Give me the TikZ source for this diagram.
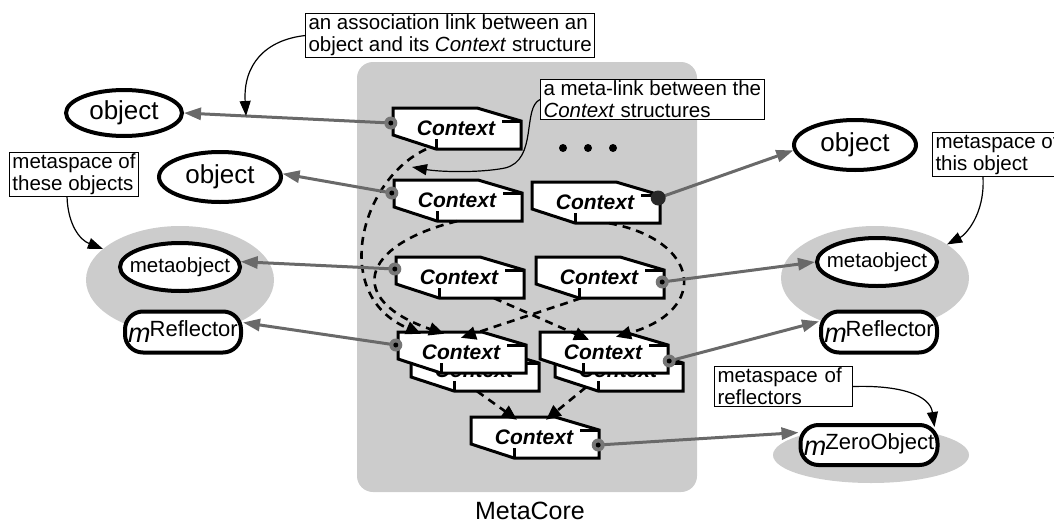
\documentclass[tikz,border=0pt]{standalone}
\usepackage{fontspec}
\setmainfont{Liberation Sans}
\usetikzlibrary{shapes.geometric,arrows.meta,calc}
\definecolor{bggray}{RGB}{204,204,204}
\definecolor{linkgray}{RGB}{105,105,105}
\definecolor{dotgray}{RGB}{118,118,118}
\definecolor{dotdark}{RGB}{40,40,40}
\tikzset{
  ctxedge/.style={draw=black, fill=white, line width=3pt, line join=miter},
  ctxtext/.style={rectangle, inner sep=0pt, minimum width=128pt, minimum height=41pt,
    font=\fontsize{21}{22}\selectfont\bfseries\itshape},
  obj/.style={ellipse, draw, line width=4pt, fill=white, inner sep=0pt,
    font=\fontsize{26}{28}\selectfont},
  mobj/.style={ellipse, draw, line width=4pt, fill=white, inner sep=0pt,
    font=\fontsize{20.5}{22}\selectfont},
  refl/.style={rectangle, rounded corners=18pt, draw, line width=4pt, fill=white, inner sep=0pt},
  space/.style={ellipse, fill=bggray, inner sep=0pt},
  note/.style={draw, line width=1pt, fill=white, align=left, inner xsep=3pt, inner ysep=1.5pt,
    font=\fontsize{20.5}{22}\selectfont},
  link/.style={draw=linkgray, line width=3pt, -{Triangle[length=17pt,width=12pt]}},
  metalink/.style={draw=black, line width=2.6pt, dash pattern=on 8pt off 6pt,
    -{Triangle[length=15pt,width=13pt]}},
  callout/.style={draw=black, line width=1.2pt, -{Triangle[length=15pt,width=11pt]}},
}
\newcommand\ctxbox[3]{%
  \filldraw[ctxedge] (#2,#3) -- (#2+84,#3) -- (#2+128,#3+13) -- (#2+128,#3+41)
     -- (#2+43,#3+41) -- (#2,#3+27) -- cycle;
  \draw[ctxedge] (#2+43,#3+31) -- (#2+43,#3+41) (#2+109,#3+13) -- (#2+128,#3+13);
  \node[ctxtext] (#1) at (#2+63,#3+20.5) {Context};
}
\newcommand\mtext[1]{\makebox[0pt]{{\fontsize{27}{27}\selectfont\itshape m}\kern-1pt\raisebox{6pt}{\fontsize{22}{22}\selectfont #1}}}
\begin{document}
\begin{tikzpicture}[x=1pt,y=-1pt]
\useasboundingbox (0,0) rectangle (1054,522);
\clip (0,0) rectangle (1054,522);
% MetaCore region
\node[rectangle, rounded corners=16pt, fill=bggray, minimum width=340pt, minimum height=430pt, inner sep=0pt] (core) at (527,277) {};
\node[font=\fontsize{25}{25}\selectfont, anchor=base, inner sep=0pt] (mclabel) at (530,519) {MetaCore};
% metaspaces
\node[space, minimum width=188pt, minimum height=108pt] (gs1) at (180,280) {};
\node[space, minimum width=188pt, minimum height=104pt] (gs2) at (875,278) {};
\node[space, minimum width=196pt, minimum height=56pt] (gz) at (871,455) {};
% objects
\node[obj, minimum width=116pt, minimum height=46pt] (o1) at (124,113) {\makebox[0pt]{object}};
\node[obj, minimum width=122pt, minimum height=50pt] (o2) at (220,177) {\makebox[0pt]{object}};
\node[obj, minimum width=122pt, minimum height=50pt] (o3) at (855,145) {\makebox[0pt]{object}};
\node[mobj, minimum width=120pt, minimum height=48pt] (mo1) at (180,267) {\makebox[0pt]{metaobject}};
\node[mobj, minimum width=120pt, minimum height=48pt] (mo2) at (877,262) {\makebox[0pt]{metaobject}};
\node[refl, minimum width=116pt, minimum height=41pt] (r1) at (183,332) {\mtext{Reflector}};
\node[refl, minimum width=116pt, minimum height=41pt] (r2) at (879,332) {\mtext{Reflector}};
\node[refl, minimum width=137pt, minimum height=40pt] (z) at (869,445) {\mtext{ZeroObject}};
% Context structures
\ctxbox{c1}{393}{108}
\ctxbox{c2}{394}{180}
\ctxbox{c3}{532}{182}
\ctxbox{c4}{396}{257}
\ctxbox{c5}{536}{257}
\ctxbox{c6b}{411}{350}
\ctxbox{c6}{398}{332}
\ctxbox{c7b}{555}{350}
\ctxbox{c7}{540}{332}
\ctxbox{c8}{471}{417}
% dots
\fill (563,148) circle[radius=4pt] (588,148) circle[radius=4pt] (613,148) circle[radius=4pt];
% meta-links
\draw[metalink] ([xshift=-30pt]c1.south) .. controls (360,180) and (330,295) .. ([xshift=-40pt,yshift=-2pt]c6.north);
\draw[metalink] (c2.south) .. controls (360,245) and (345,300) .. ([xshift=-17pt,yshift=-2pt]c6.north);
\draw[metalink] ([xshift=-18pt]c5.south) -- ([yshift=-6pt]c6.north);
\draw[metalink] ([xshift=35pt]c4.south) -- ([xshift=-14pt,yshift=-8pt]c7.north);
\draw[metalink] ([xshift=14pt]c3.south) .. controls (700,240) and (710,310) .. ([xshift=13pt,yshift=-5pt]c7.north);
\draw[metalink] ([xshift=3pt]c6b.south) -- ([xshift=-17pt,yshift=-3pt]c8.north);
\draw[metalink] ([xshift=-32pt,yshift=4pt]c7b.south) -- ([xshift=12pt,yshift=-3pt]c8.north);
% association links
\coordinate (p1) at ([xshift=-1pt,yshift=5.5pt]c1.west);
\coordinate (p2) at ([xshift=-1pt,yshift=7.5pt]c2.west);
\coordinate (p3) at ([xshift=-1pt,yshift=4.5pt]c3.east);
\coordinate (p4) at ([yshift=8.5pt]c4.west);
\coordinate (p5) at ([xshift=-1pt,yshift=-4.5pt]c5.east);
\coordinate (p6) at ([xshift=-1pt,yshift=7.5pt]c6.west);
\coordinate (p7) at ([xshift=2pt,yshift=-8.5pt]c7.east);
\coordinate (p8) at ([yshift=-7.5pt]c8.east);
\draw[link] (p1) -- coordinate[pos=0.7] (l1m) (o1.east);
\draw[link] (p2) -- (o2.3);
\draw[link] (p3) -- (o3.185);
\draw[link] (p4) -- (mo1.5);
\draw[link] (p5) -- (mo2.west);
\draw[link] (p6) -- (r1.9);
\draw[link] (p7) -- (r2.170);
\draw[link] (p8) -- (z.170);
\foreach \p in {p1,p2,p4,p5,p6,p7,p8}{
  \fill[dotgray] (\p) circle[radius=6.5pt];
  \fill[black] (\p) circle[radius=2.5pt];
}
\fill[dotdark] (p3) circle[radius=7.5pt];
% notes
\node[note, anchor=north west] (n1) at (305,13) {an association link between an\\object and its \textit{Context} structure};
\node[note, anchor=north west] (n2) at (9,152) {metaspace of\\these objects};
\node[note, anchor=north west] (n3) at (540,79) {a meta-link between the\\\textit{Context} structures};
\node[note, anchor=north west] (n4) at (932,132) {metaspace of\\this object};
\node[note, anchor=north west, text width=132pt] (n5) at (714,366) {metaspace of\\reflectors};
\coordinate (mlend) at (412,167);
\draw[callout] (n1.west) .. controls (265,40) and (243,65) .. (l1m);
\draw[callout] ([xshift=-7pt]n2.south) .. controls (68,225) and (80,240) .. (gs1.158);
\draw[callout] (n3.west) .. controls (522,108) and (538,160) .. (505,168) .. controls (480,173) and (440,172) .. (mlend);
\draw[callout] ([xshift=51pt]n4.south west) .. controls (985,215) and (965,235) .. (gs2.25);
\draw[callout] (n5.east) .. controls (900,385) and (930,395) .. ([xshift=-5pt,yshift=-4pt]z.north east);
\end{tikzpicture}
\end{document}
